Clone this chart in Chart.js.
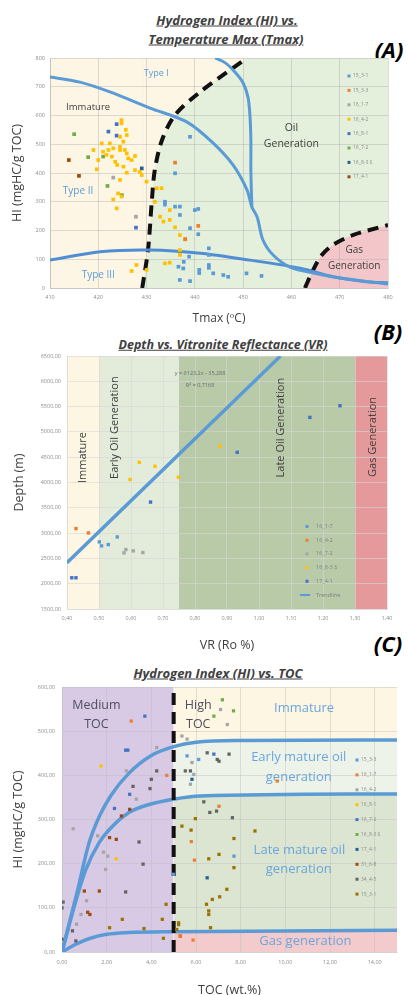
<!DOCTYPE html>
<html><head><meta charset="utf-8">
<script src="https://cdn.jsdelivr.net/npm/chart.js@4.4.1/dist/chart.umd.min.js"></script>
<style>
html,body{margin:0;padding:0;background:#fff;overflow:hidden;width:408px;height:995px;}
canvas{position:absolute;left:0;}
.title{position:absolute;font-family:"Open Sans",sans-serif;font-weight:bold;font-style:italic;color:#404040;text-decoration:underline;white-space:nowrap;transform:translate(-50%,-50%);font-size:13px;line-height:1;}
.tag{position:absolute;font-family:"Open Sans",sans-serif;font-weight:bold;font-style:italic;font-size:22px;color:#000;transform:translate(-50%,-50%);line-height:1;white-space:nowrap;}
</style></head><body>
<div class="title" style="left:227px;top:20px;">Hydrogen Index (HI) vs.</div>
<div class="title" style="left:226px;top:39px;">Temperature Max (Tmax)</div>
<div class="tag" style="left:389px;top:49px;">(A)</div>
<div class="title" style="left:223px;top:345px;font-size:12.5px;">Depth vs. Vitronite Reflectance (VR)</div>
<div class="tag" style="left:388px;top:331px;">(B)</div>
<div class="title" style="left:218px;top:673px;">Hydrogen Index (HI) vs. TOC</div>
<div class="tag" style="left:388px;top:643px;">(C)</div>
<canvas id="cA" width="408" height="330" style="top:0px"></canvas>
<canvas id="cB" width="408" height="335" style="top:330px"></canvas>
<canvas id="cC" width="408" height="335" style="top:665px"></canvas>
<script>
// ================= DATA =================
// ---- Panel A : HI vs Tmax ----
const A_tmaxAxis = [410, 480];
const A_hiAxis = [0, 800];
const A_15_3_1_tmax = [439.0,435.9,433.8,433.8,435.9,436.9,436.9,440.0,440.7,439.0,440.7,442.9,442.9,442.9,442.9,438.8,437.7,436.6,437.6,436.9,439.0,440.9,440.9,443.8,445.9,446.9,450.7,453.8];
const A_15_3_1_hi   = [526,399,300,290,283,283,254,271,275,208,187,138,115,80,70,109,91,74,68,28,24,63,52,51,45,39,51,42];
const A_15_3_3_tmax = [435.9,440.7,438.0];
const A_15_3_3_hi   = [436,216,170];
const A_16_1_7_tmax = [423.1,427.8];
const A_16_1_7_hi   = [384,248];
const A_16_4_2_tmax = [424.8,424.8,425.7,425.9,424.5,425.2,424.5,423.1,422.1,421.0,421.7,422.8,424.5,425.5,425.9,426.2,427.6,426.9,423.5,423.9,425.2,425.9,427.6,420.0,419.0,420.7,422.4,419.7,424.5,424.1,424.8,423.1,423.8,428.6,429.0,430.0,431.7,432.1,433.1,432.8,433.5,434.8,434.8,435.9,436.9,438.0,436.9,436.9,433.8,434.8,427.9,426.9,430.0];
const A_16_4_2_hi   = [584,573,550,532,526,509,491,486,480,474,463,457,480,480,468,451,459,445,439,428,422,401,410,445,480,503,503,413,376,329,318,308,277,404,393,370,300,347,347,248,231,237,271,211,184,169,132,115,86,88,80,59,63];
const A_16_8_1_tmax = [423.8,422.1,423.8,427.8];
const A_16_8_1_hi   = [570,544,530,210];
const A_16_7_2_tmax = [415.0,417.9,421.0,421.9,424.9];
const A_16_7_2_hi   = [535,455,457,355,323];
const A_16_8_3S_tmax = [429.0];
const A_16_8_3S_hi   = [416];
const A_17_4_1_tmax = [413.9,416.0];
const A_17_4_1_hi   = [445,390];
// kerogen type curves
const A_curve1_tmax = [410,416.2,422.4,430.7,438.4,443.8,447.9,450.8,451.8,452.9,454.1,456.2,459.7,464.5,470.1,480];
const A_curve1_hi   = [734,716,682,626,577,504,428,341,282,247,167,115,73,52,35,14];
const A_curve2_tmax = [444.2,446.3,448.3,450.0,451.0,451.4,451.6,451.6,451.8];
const A_curve2_hi   = [800,783,751,713,664,602,515,410,282];
const A_curve3_tmax = [410,420.4,430.7,441.1,451.4,461.8,468.6,475.6,480];
const A_curve3_hi   = [97,126,132,121,97,69,39,22,18];
// maturity boundaries
const A_immBound_tmax = [429.1,430.3,431.1,431.7,433.2,435.9,441.1,450.8];
const A_immBound_hi   = [0,132,306,410,515,602,682,800];
const A_gasBound_tmax = [462.8,464.5,466.3,468.6,472.7,480];
const A_gasBound_hi   = [0,63,115,150,184,219];

// ---- Panel B : Depth vs VR ----
const B_vrAxis = [0.40, 1.40];
const B_depthAxis = [1500, 6500];
const B_zones = [0.40, 0.50, 0.75, 1.30, 1.40];
const B_16_1_7_vr = [0.501,0.508,0.529,0.557];
const B_16_1_7_d  = [2826,2747,2773,2924];
const B_16_4_2_vr = [0.428,0.467];
const B_16_4_2_d  = [3089,3003];
const B_16_7_2_vr = [0.578,0.584,0.607,0.637];
const B_16_7_2_d  = [2609,2675,2648,2616];
const B_16_8_3S_vr = [0.597,0.626,0.675,0.748,0.878];
const B_16_8_3S_d  = [4060,4400,4321,4105,4716];
const B_17_4_1_vr = [0.415,0.428,0.661,0.932,1.159,1.253];
const B_17_4_1_d  = [2117,2117,3613,4597,5287,5517];
const B_trend_vr = [0.40, 1.067];
const B_trend_d  = [2414, 6498];

// ---- Panel C : HI vs TOC ----
const C_tocAxis = [0, 15];
const C_hiAxis = [0, 600];
const C_tocThreshold = 5;
const C_15_3_3_toc = [6.12,7.7,4.99,5.6];
const C_15_3_3_hi  = [436,217,176,444];
const C_16_1_7_toc = [3.1,4.69,7.03,9.64,5.79,5.93,5.87,5.29];
const C_16_1_7_hi  = [523,400,330,387,250,208,27,36];
const C_16_4_2_toc = [0.5,0.65,0.85,1.1,1.6,1.95,1.86,2.05,2.88,4.24,5.75,5.9,7.1,7.4,5.6,5.37,5.82,3.33];
const C_16_4_2_hi  = [279,63,85,116,263,187,226,217,410,463,380,402,549,515,482,489,429,346];
const C_16_8_1_toc = [1.75,2.43];
const C_16_8_1_hi  = [421,211];
const C_16_7_2_toc = [2.35,3.03,3.71,2.85,2.95,6.8];
const C_16_7_2_hi  = [325,357,534,457,457,448];
const C_16_8_3S_toc = [7.18,7.68,6.8];
const C_16_8_3S_hi  = [571,546,534];
const C_17_4_1_toc = [5.82,6.5];
const C_17_4_1_hi  = [391,168];
const C_31_6_8_toc = [1.0,1.25,1.67,2.13,2.43,2.66,3.03,1.15];
const C_31_6_8_hi  = [138,85,138,259,255,308,323,90];
const C_34_4_5_toc = [0.05,0.0,0.0,0.47,0.62,2.85,3.45,3.63,3.18,3.94,4.0,4.24,6.35,6.62,6.92,7.63,5.75,5.52,7.03,6.5,7.48,6.95];
const C_34_4_5_hi  = [113,100,29,48,25,136,249,199,375,370,391,410,340,316,319,304,410,410,432,451,448,436];
const C_15_3_1_toc = [2.13,2.7,3.67,4.49,4.66,4.54,5.22,5.22,5.14,5.3,5.37,5.78,5.97,6.57,7.03,7.7,7.7,8.64,7.38,7.06,6.73,6.47,6.57,6.57,6.65];
const C_15_3_1_hi  = [55,74,53,74,108,31,66,62,51,36,285,276,302,211,221,257,191,274,142,125,119,108,93,85,55];
const C_top_toc = [0,0.3,0.7,1.2,1.7,2.2,3,4,5,6,8,15];
const C_top_hi  = [0,60,140,245,310,355,405,445,465,475,479,480];
const C_mid_toc = [0,0.6,1.07,1.67,2.13,3,3.9,5,6.2,15];
const C_mid_hi  = [0,112,187,248,278,316,334,346,353,358];
const C_low_toc = [0,0.6,1.2,2,3,5,15];
const C_low_hi  = [0,17,30,40,44,46,49];

// ================= HELPERS =================
const COL = {lblue:'#5b9bd5', orange:'#ed7d31', gray:'#a5a5a5', gold:'#ffc000', blue:'#4472c4', green:'#70ad47', navy:'#255e91', brown:'#9e480e', dgray:'#636363', olive:'#997300'};
const FONT = '"Open Sans", sans-serif';
const pts = (xs, ys) => xs.map((x, i) => ({x, y: ys[i]}));
function series(label, xs, ys, color, r) {
  return {type:'scatter', label, data: pts(xs, ys), backgroundColor: color, borderColor: color,
    pointStyle:'rect', pointRadius: r, pointBorderWidth: 0, showLine:false, legendItem:true};
}
function curve(xs, ys, o) {
  return Object.assign({type:'line', data: pts(xs, ys), pointRadius:0, borderWidth:3, borderColor: COL.lblue,
    fill:false, tension:0.3, label:''}, o || {});
}
function area(xs, ys, color, fill, o) {
  return Object.assign({type:'line', data: pts(xs, ys), pointRadius:0, borderWidth:1,
    borderColor:'rgba(0,0,0,0)', backgroundColor: color, fill, tension:0, label:''}, o || {});
}
const textLabels = {
  id:'textLabels',
  beforeDatasetsDraw(chart, args, opts) {
    const ctx = chart.ctx, xs = chart.scales.x, ys = chart.scales.y;
    (opts.items || []).forEach(it => {
      ctx.save();
      ctx.font = `${it.size}px ${FONT}`;
      ctx.fillStyle = it.color; ctx.textAlign = 'center'; ctx.textBaseline = 'middle';
      ctx.translate(xs.getPixelForValue(it.x), ys.getPixelForValue(it.y));
      if (it.rot) ctx.rotate(it.rot);
      ctx.fillText(it.text, 0, 0);
      ctx.restore();
    });
  }
};
const insideLegend = {
  id:'insideLegend',
  afterDatasetsDraw(chart, args, opts) {
    const ctx = chart.ctx, a = chart.chartArea;
    const x = a.right - opts.right; let y = a.top + opts.top;
    ctx.save();
    ctx.font = `${opts.size}px ${FONT}`; ctx.textBaseline = 'middle'; ctx.textAlign = 'left';
    chart.data.datasets.forEach(ds => {
      if (!ds.legendItem) return;
      if (ds.legendLine) {
        ctx.strokeStyle = ds.borderColor; ctx.lineWidth = 2;
        ctx.beginPath(); ctx.moveTo(x - 7, y); ctx.lineTo(x + 3, y); ctx.stroke();
      } else {
        ctx.fillStyle = ds.backgroundColor; ctx.fillRect(x - 1.5, y - 1.5, 3, 3);
      }
      ctx.fillStyle = opts.color; ctx.fillText(ds.label, x + opts.gap, y);
      y += opts.step;
    });
    ctx.restore();
  }
};
function axis(min, max, step, fmt, tickFont, pad, gridColor, titleText, titleSize, titlePad, fitProp, fitVal, extraTicks) {
  return {
    type:'linear', min, max,
    ticks: Object.assign({stepSize: step, color:'#8c8c8c', font:{size: tickFont, family: FONT}, padding: pad,
      callback: fmt, maxRotation:0, autoSkip:false}, extraTicks || {}),
    grid: {color: gridColor, drawTicks:false, lineWidth:1},
    border: {display:true, color: gridColor},
    title: {display:true, text: titleText, color:'#404040', font:{size: titleSize, family: FONT}, padding: titlePad},
    afterFit(s) { s[fitProp] = fitVal; }
  };
}
const comma2 = v => Number(v).toFixed(2).replace('.', ',');

// ================= CHART A =================
new Chart(document.getElementById('cA'), {
  type:'scatter',
  data: { datasets: [
    series('15_3-1', A_15_3_1_tmax, A_15_3_1_hi, COL.lblue, 2.6),
    series('15_3-3', A_15_3_3_tmax, A_15_3_3_hi, COL.orange, 2.6),
    series('16_1-7', A_16_1_7_tmax, A_16_1_7_hi, COL.gray, 2.6),
    series('16_4-2', A_16_4_2_tmax, A_16_4_2_hi, COL.gold, 2.6),
    series('16_8-1', A_16_8_1_tmax, A_16_8_1_hi, COL.blue, 2.6),
    series('16_7-2', A_16_7_2_tmax, A_16_7_2_hi, COL.green, 2.6),
    series('16_8-3 S', A_16_8_3S_tmax, A_16_8_3S_hi, COL.navy, 2.6),
    series('17_4-1', A_17_4_1_tmax, A_17_4_1_hi, COL.brown, 2.6),
    curve(A_curve1_tmax, A_curve1_hi),
    curve(A_curve2_tmax, A_curve2_hi),
    curve(A_curve3_tmax, A_curve3_hi, {borderColor:'#4f8ed3'}),
    curve(A_immBound_tmax, A_immBound_hi, {borderColor:'#111', borderWidth:4, borderDash:[11,7]}),
    curve(A_gasBound_tmax, A_gasBound_hi, {borderColor:'#111', borderWidth:4, borderDash:[11,7], fill:'origin', backgroundColor:'#f3c6ca'}),
    area(A_immBound_tmax, A_immBound_hi, '#fef6e4', 'end', {tension:0.3}),
    area([A_tmaxAxis[0], A_immBound_tmax[0]], [A_hiAxis[1], A_hiAxis[1]], '#fef6e4', 'start'),
    area(A_tmaxAxis, [A_hiAxis[1], A_hiAxis[1]], '#e4efdc', 'start')
  ]},
  options: {
    responsive:false, animation:false, events:[],
    layout:{padding:{top:58, right:20, left:0, bottom:0}},
    scales: {
      x: axis(A_tmaxAxis[0], A_tmaxAxis[1], 10, v => v, 5.5, 6, 'rgba(160,160,160,0.35)', 'Tmax (ºC)', 12, {top:0, bottom:4}, 'height', 42),
      y: axis(A_hiAxis[0], A_hiAxis[1], 100, v => v, 5.5, 5, 'rgba(160,160,160,0.35)', 'HI (mgHC/g TOC)', 12.5, {top:10, bottom:0}, 'width', 50)
    },
    plugins: {
      legend:{display:false}, tooltip:{enabled:false}, filler:{drawTime:'beforeDraw'},
      insideLegend:{right:39, top:18, step:14.4, gap:4, size:5, color:'#8c8c8c'},
      textLabels:{items:[
        {text:'Type I', x:432, y:748, size:9, color:COL.lblue},
        {text:'Immature', x:417.9, y:630, size:9.5, color:'#404040'},
        {text:'Oil', x:460, y:556, size:10.5, color:'#404040'},
        {text:'Generation', x:460, y:500, size:10.5, color:'#404040'},
        {text:'Type II', x:415.8, y:338, size:10, color:COL.lblue},
        {text:'Type III', x:420, y:45, size:10, color:COL.lblue},
        {text:'Gas', x:473, y:132, size:10, color:'#404040'},
        {text:'Generation', x:473, y:76, size:10, color:'#404040'}
      ]}
    }
  },
  plugins:[textLabels, insideLegend]
});

// ================= CHART B =================
new Chart(document.getElementById('cB'), {
  type:'scatter',
  data: { datasets: [
    series('16_1-7', B_16_1_7_vr, B_16_1_7_d, COL.lblue, 2.4),
    series('16_4-2', B_16_4_2_vr, B_16_4_2_d, COL.orange, 2.4),
    series('16_7-2', B_16_7_2_vr, B_16_7_2_d, COL.gray, 2.4),
    series('16_8-3 S', B_16_8_3S_vr, B_16_8_3S_d, COL.gold, 2.4),
    series('17_4-1', B_17_4_1_vr, B_17_4_1_d, COL.blue, 2.4),
    curve(B_trend_vr, B_trend_d, {label:'Trendline', borderColor:'#5b9bd5', borderWidth:3.5, tension:0, legendItem:true, legendLine:true}),
    area([B_zones[0], B_zones[1]], [B_depthAxis[1], B_depthAxis[1]], '#fdf6e3', 'start'),
    area([B_zones[1], B_zones[2]], [B_depthAxis[1], B_depthAxis[1]], '#e3ecda', 'start'),
    area([B_zones[2], B_zones[3]], [B_depthAxis[1], B_depthAxis[1]], '#b9caa9', 'start'),
    area([B_zones[3], B_zones[4]], [B_depthAxis[1], B_depthAxis[1]], '#e6999b', 'start')
  ]},
  options: {
    responsive:false, animation:false, events:[],
    layout:{padding:{top:26, right:21, left:0, bottom:0}},
    scales: {
      x: axis(B_vrAxis[0], B_vrAxis[1], 0.1, comma2, 5.5, 6, 'rgba(215,215,215,0.6)', 'VR (Ro %)', 12.5, {top:0, bottom:12}, 'height', 56),
      y: axis(B_depthAxis[0], B_depthAxis[1], 500, comma2, 5.5, 6, 'rgba(215,215,215,0.6)', 'Depth (m)', 12.5, {top:12, bottom:0}, 'width', 67)
    },
    plugins: {
      legend:{display:false}, tooltip:{enabled:false}, filler:{drawTime:'beforeDraw'},
      insideLegend:{right:80, top:170.5, step:13.7, gap:9, size:5.5, color:'#7f7f7f'},
      textLabels:{items:[
        {text:'Immature', x:0.45, y:4493, size:11, color:'#404040', rot:-Math.PI/2},
        {text:'Early Oil Generation', x:0.55, y:5084, size:11, color:'#404040', rot:-Math.PI/2},
        {text:'Late Oil Generation', x:1.069, y:5084, size:11, color:'#404040', rot:-Math.PI/2},
        {text:'Gas Generation', x:1.356, y:4900, size:11, color:'#404040', rot:-Math.PI/2},
        {text:'y = 6123,2x - 35,288', x:0.816, y:6147, size:5.5, color:'#6b6b6b'},
        {text:'R² = 0,7168', x:0.816, y:5910, size:5.5, color:'#6b6b6b'}
      ]}
    }
  },
  plugins:[textLabels, insideLegend]
});

// ================= CHART C =================
const geT = (xs, ys) => [xs.filter(x => x >= C_tocThreshold), ys.filter((y, i) => xs[i] >= C_tocThreshold)];
const cTopR = geT(C_top_toc, C_top_hi), cMidR = geT(C_mid_toc, C_mid_hi), cLowR = geT(C_low_toc, C_low_hi);
new Chart(document.getElementById('cC'), {
  type:'scatter',
  data: { datasets: [
    series('15_3-3', C_15_3_3_toc, C_15_3_3_hi, COL.lblue, 2.3),
    series('16_1-7', C_16_1_7_toc, C_16_1_7_hi, COL.orange, 2.3),
    series('16_4-2', C_16_4_2_toc, C_16_4_2_hi, COL.gray, 2.3),
    series('16_8-1', C_16_8_1_toc, C_16_8_1_hi, COL.gold, 2.3),
    series('16_7-2', C_16_7_2_toc, C_16_7_2_hi, COL.blue, 2.3),
    series('16_8-3 S', C_16_8_3S_toc, C_16_8_3S_hi, COL.green, 2.3),
    series('17_4-1', C_17_4_1_toc, C_17_4_1_hi, COL.navy, 2.3),
    series('31_6-8', C_31_6_8_toc, C_31_6_8_hi, COL.brown, 2.3),
    series('34_4-5', C_34_4_5_toc, C_34_4_5_hi, COL.dgray, 2.3),
    series('15_3-1', C_15_3_1_toc, C_15_3_1_hi, COL.olive, 2.3),
    curve([C_tocThreshold, C_tocThreshold], C_hiAxis, {borderColor:'#111', borderWidth:4, borderDash:[12,7], tension:0}),
    curve(C_top_toc, C_top_hi, {cubicInterpolationMode:'monotone', borderWidth:3.5}),
    curve(C_mid_toc, C_mid_hi, {cubicInterpolationMode:'monotone', borderWidth:3.5}),
    curve(C_low_toc, C_low_hi, {cubicInterpolationMode:'monotone', borderWidth:3.5}),
    area(cLowR[0], cLowR[1], '#f4cbcd', 'start', {cubicInterpolationMode:'monotone'}),
    area(cMidR[0], cMidR[1], '#dbe5d1', 'start', {cubicInterpolationMode:'monotone'}),
    area(cTopR[0], cTopR[1], '#eef3ea', 'start', {cubicInterpolationMode:'monotone'}),
    area([C_tocThreshold, C_tocAxis[1]], [C_hiAxis[1], C_hiAxis[1]], '#fdf6e3', 'start'),
    area([C_tocAxis[0], C_tocThreshold], [C_hiAxis[1], C_hiAxis[1]], '#d8c9e5', 'start')
  ]},
  options: {
    responsive:false, animation:false, events:[],
    layout:{padding:{top:22, right:11, left:0, bottom:0}},
    scales: {
      x: axis(C_tocAxis[0], C_tocAxis[1], 2, comma2, 5.5, 7, 'rgba(190,190,190,0.45)', 'TOC (wt.%)', 12.5, {top:0, bottom:2}, 'height', 48, {includeBounds:false}),
      y: axis(C_hiAxis[0], C_hiAxis[1], 100, comma2, 5.5, 7, 'rgba(190,190,190,0.45)', 'HI (mgHC/g TOC)', 12.5, {top:11, bottom:0}, 'width', 62)
    },
    plugins: {
      legend:{display:false}, tooltip:{enabled:false}, filler:{drawTime:'beforeDraw'},
      insideLegend:{right:40, top:73, step:14.9, gap:4, size:5, color:'#8c8c8c'},
      textLabels:{items:[
        {text:'Medium', x:1.54, y:558, size:12.5, color:'#4f4f5e'},
        {text:'TOC', x:1.54, y:515, size:12.5, color:'#4f4f5e'},
        {text:'High', x:6.1, y:558, size:12.5, color:'#4f4f5e'},
        {text:'TOC', x:6.1, y:515, size:12.5, color:'#4f4f5e'},
        {text:'Immature', x:10.84, y:551, size:13, color:'#6aa6dc'},
        {text:'Early mature oil', x:10.6, y:440, size:13, color:'#6aa6dc'},
        {text:'generation', x:10.6, y:395, size:13, color:'#6aa6dc'},
        {text:'Late mature oil', x:10.63, y:230, size:13, color:'#6aa6dc'},
        {text:'generation', x:10.6, y:187, size:13, color:'#6aa6dc'},
        {text:'Gas generation', x:10.9, y:24, size:13, color:'#6aa6dc'}
      ]}
    }
  },
  plugins:[textLabels, insideLegend]
});
</script>
</body></html>
